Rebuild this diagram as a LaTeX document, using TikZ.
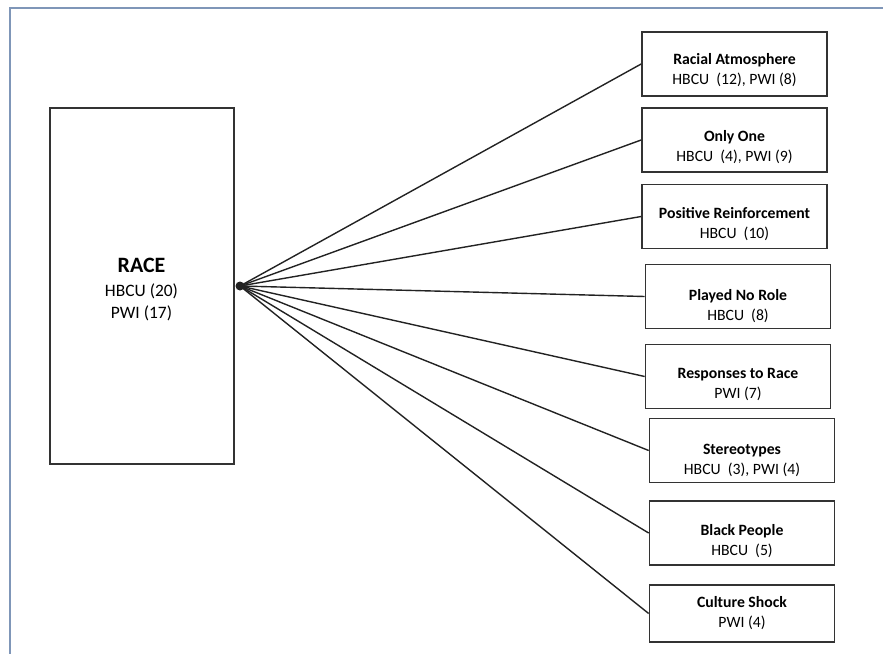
\documentclass[tikz,border=0pt]{standalone}
\usepackage{fontspec}
\setmainfont{Carlito}
\definecolor{framecol}{HTML}{7F96B8}
\definecolor{boxcol}{HTML}{333333}
\definecolor{linecol}{HTML}{222222}
\begin{document}
\begin{tikzpicture}[x=1bp,y=-1bp,
  catbox/.style={draw=boxcol, line width=1.7bp, inner sep=0pt, minimum width=185bp, minimum height=64bp},
  cattext/.style={align=center, inner sep=0pt, font=\fontsize{15.8}{20}\selectfont},
  conn/.style={draw=linecol, line width=1.4bp},
  framestyle/.style={draw=framecol, line width=2bp}]
\useasboundingbox (0,0) rectangle (883,654);
\draw[framestyle] (10,670) -- (10,7.7) -- (900,7.7);
% main box
\node[catbox, minimum width=184bp, minimum height=356bp] (race) at (142,286) {};
\node[inner sep=0pt, font=\fontsize{22}{26}\selectfont\bfseries] (racet) at (141.5,265.5) {RACE};
\node[align=center, inner sep=0pt, font=\fontsize{17.5}{22}\selectfont] (racen) at (141.5,302.5) {HBCU (20)\\PWI (17)};
% hub
\coordinate (hub) at (240,286);
% category boxes
\node[catbox] (b1) at (734.5,64) {};
\node[catbox] (b2) at (734.5,140) {};
\node[catbox] (b3) at (734.5,216.5) {};
\node[catbox] (b4) at (738,296.5) {};
\node[catbox] (b5) at (738,376.5) {};
\node[catbox] (b6) at (742,450.5) {};
\node[catbox] (b7) at (742,533) {};
\node[catbox, minimum height=57bp] (b8) at (742,613.5) {};
\node[cattext] (t1) at ([yshift=-6bp]b1.center) {\textbf{Racial Atmosphere}\\HBCU\ \ (12), PWI (8)};
\node[cattext] (t2) at ([yshift=-6.7bp]b2.center) {\textbf{Only One}\\HBCU\ \ (4), PWI (9)};
\node[cattext] (t3) at ([yshift=-7.2bp]b3.center) {\textbf{Positive Reinforcement}\\HBCU\ \ (10)};
\node[cattext] (t4) at ([yshift=-10bp]b4.center) {\textbf{Played No Role}\\HBCU\ \ (8)};
\node[cattext] (t5) at ([yshift=-8bp]b5.center) {\textbf{Responses to Race}\\PWI (7)};
\node[cattext] (t6) at ([yshift=-10bp]b6.center) {\textbf{Stereotypes}\\HBCU\ \ (3), PWI (4)};
\node[cattext] (t7) at ([yshift=-8bp]b7.center) {\textbf{Black People}\\HBCU\ \ (5)};
\node[cattext] (t8) at ([yshift=0.5bp]b8.center) {\textbf{Culture Shock}\\PWI (4)};
% connectors
\foreach \b in {b1,b2,b3,b4,b5,b6,b7,b8}
  \draw[conn] (hub) -- (\b.west);
\fill[linecol] (hub) circle (4.5bp);
\end{tikzpicture}
\end{document}
